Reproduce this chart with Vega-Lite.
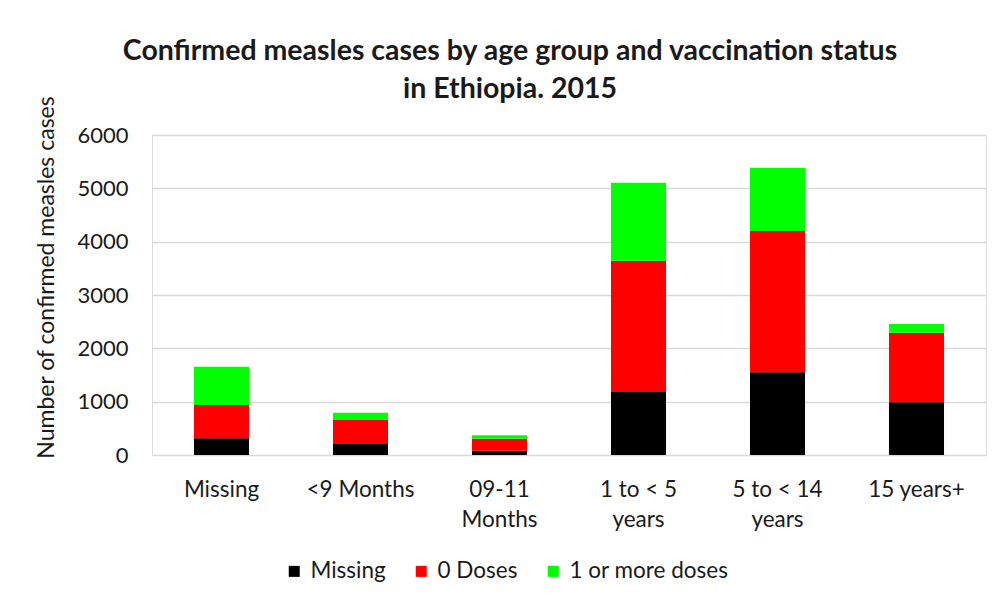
{
  "$schema": "https://vega.github.io/schema/vega-lite/v6.json",
  "width": 834,
  "height": 320,
  "autosize": "none",
  "padding": {"left": 152, "top": 135, "right": 14, "bottom": 144},
  "background": "white",
  "title": {
    "text": ["Confirmed measles cases by age group and vaccination status", "in Ethiopia. 2015"],
    "font": "Lato",
    "fontSize": 28.5,
    "fontWeight": "bold",
    "color": "#1a1a1a",
    "lineHeight": 38,
    "anchor": "middle",
    "dx": -59,
    "offset": -8
  },
  "data": {
    "values": [
      {"age": "Missing", "status": "Missing", "cases": 313},
      {"age": "Missing", "status": "0 Doses", "cases": 625},
      {"age": "Missing", "status": "1 or more doses", "cases": 718},
      {"age": "<9 Months", "status": "Missing", "cases": 206},
      {"age": "<9 Months", "status": "0 Doses", "cases": 450},
      {"age": "<9 Months", "status": "1 or more doses", "cases": 138},
      {"age": "09-11|Months", "status": "Missing", "cases": 81},
      {"age": "09-11|Months", "status": "0 Doses", "cases": 225},
      {"age": "09-11|Months", "status": "1 or more doses", "cases": 63},
      {"age": "1 to < 5|years", "status": "Missing", "cases": 1181},
      {"age": "1 to < 5|years", "status": "0 Doses", "cases": 2462},
      {"age": "1 to < 5|years", "status": "1 or more doses", "cases": 1463},
      {"age": "5 to < 14|years", "status": "Missing", "cases": 1550},
      {"age": "5 to < 14|years", "status": "0 Doses", "cases": 2650},
      {"age": "5 to < 14|years", "status": "1 or more doses", "cases": 1188},
      {"age": "15 years+", "status": "Missing", "cases": 988},
      {"age": "15 years+", "status": "0 Doses", "cases": 1306},
      {"age": "15 years+", "status": "1 or more doses", "cases": 162}
    ]
  },
  "transform": [
    {"calculate": "indexof(['Missing', '0 Doses', '1 or more doses'], datum.status)", "as": "stackOrder"}
  ],
  "mark": {"type": "bar"},
  "encoding": {
    "x": {
      "field": "age",
      "type": "nominal",
      "sort": ["Missing", "<9 Months", "09-11|Months", "1 to < 5|years", "5 to < 14|years", "15 years+"],
      "scale": {"paddingInner": 0.604, "paddingOuter": 0.302},
      "axis": {
        "title": null,
        "labelAngle": 0,
        "labelExpr": "split(datum.label, '|')",
        "labelFont": "Lato",
        "labelFontSize": 22.5,
        "labelColor": "#1a1a1a",
        "labelLineHeight": 30,
        "labelPadding": 23,
        "domain": false,
        "ticks": false
      }
    },
    "y": {
      "field": "cases",
      "type": "quantitative",
      "stack": "zero",
      "scale": {"domain": [0, 6000], "nice": false},
      "axis": {
        "title": "Number of confirmed measles cases",
        "titleFont": "Lato",
        "titleFontSize": 23,
        "titleFontWeight": "normal",
        "titleColor": "#1a1a1a",
        "titlePadding": 18,
        "titleY": 142,
        "values": [0, 1000, 2000, 3000, 4000, 5000, 6000],
        "format": "d",
        "labelFont": "Lato",
        "labelFontSize": 22,
        "labelColor": "#1a1a1a",
        "labelPadding": 24,
        "domain": false,
        "ticks": false,
        "grid": true,
        "gridColor": "#d9d9d9",
        "gridWidth": 1.5
      }
    },
    "color": {
      "field": "status",
      "type": "nominal",
      "sort": ["Missing", "0 Doses", "1 or more doses"],
      "scale": {"domain": ["Missing", "0 Doses", "1 or more doses"], "range": ["#000000", "#ff0000", "#00ff00"]},
      "legend": {
        "title": null,
        "orient": "none",
        "direction": "horizontal",
        "legendX": 131,
        "legendY": 425,
        "symbolType": "square",
        "symbolSize": 121,
        "symbolStrokeWidth": 0,
        "labelFont": "Lato",
        "labelFontSize": 22.5,
        "labelColor": "#1a1a1a",
        "labelOffset": 5,
        "labelLimit": 300,
        "columnPadding": 24
      }
    },
    "order": {"field": "stackOrder", "type": "quantitative", "sort": "ascending"}
  }
}
